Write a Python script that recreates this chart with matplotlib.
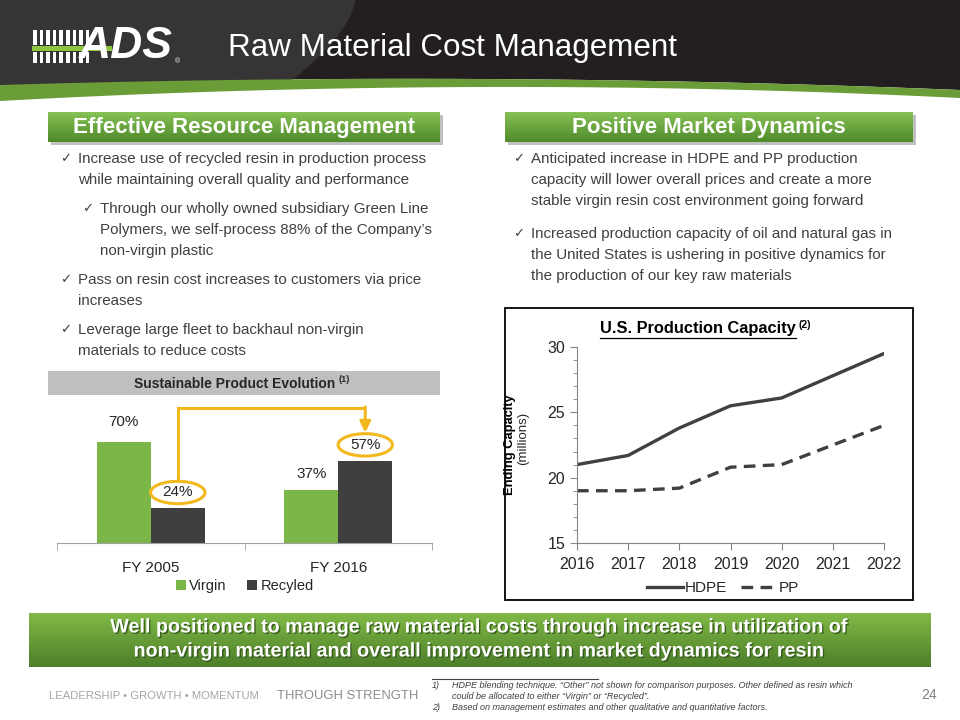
"""
Raw Material Cost Management 슬라이드 재현
"""
import matplotlib
matplotlib.use('Agg')
import matplotlib.pyplot as plt
import matplotlib.patches as mpatches
import matplotlib.patheffects as pe
from matplotlib.colors import to_rgb
import numpy as np

plt.rcParams['font.family'] = ['Liberation Sans', 'DejaVu Sans']

# ---- 데이터 ----
bar_categories = ['FY 2005', 'FY 2016']
virgin_share = [70, 37]
recycled_share = [24, 57]

years = [2016, 2017, 2018, 2019, 2020, 2021, 2022]
hdpe_capacity = [21.0, 21.7, 23.8, 25.5, 26.1, 27.8, 29.5]
pp_capacity = [19.0, 19.0, 19.2, 20.8, 21.0, 22.5, 24.0]

title = 'Raw Material Cost Management'
left_header = 'Effective Resource Management'
right_header = 'Positive Market Dynamics'
left_bullets = [
    (0, ['Increase use of recycled resin in production process',
         'while maintaining overall quality and performance']),
    (1, ['Through our wholly owned subsidiary Green Line',
         'Polymers, we self-process 88% of the Company\u2019s',
         'non-virgin plastic']),
    (0, ['Pass on resin cost increases to customers via price',
         'increases']),
    (0, ['Leverage large fleet to backhaul non-virgin',
         'materials to reduce costs']),
]
right_bullets = [
    (0, ['Anticipated increase in HDPE and PP production',
         'capacity will lower overall prices and create a more',
         'stable virgin resin cost environment going forward']),
    (0, ['Increased production capacity of oil and natural gas in',
         'the United States is ushering in positive dynamics for',
         'the production of our key raw materials']),
]
banner_lines = ['Well positioned to manage raw material costs through increase in utilization of',
                'non-virgin material and overall improvement in market dynamics for resin']
footnotes = [
    ('1)', ['HDPE blending technique. \u201cOther\u201d not shown for comparison purposes. Other defined as resin which',
            'could be allocated to either \u201cVirgin\u201d or \u201cRecycled\u201d.']),
    ('2)', ['Based on management estimates and other qualitative and quantitative factors.']),
]

GREEN = '#7ab648'
DARK = '#404040'
GOLD = '#f2b81e'
TEXT = '#404040'

W, H = 960, 720
fig = plt.figure(figsize=(9.6, 7.2), dpi=100)
bg = fig.add_axes([0, 0, 1, 1])
bg.axis('off')


def frect(x0, y0, x1, y1):
    return [x0 / W, 1 - y1 / H, (x1 - x0) / W, (y1 - y0) / H]


def gradient_box(x0, y0, x1, y1, top, bottom, z=2):
    c0 = np.array(to_rgb(top))
    c1 = np.array(to_rgb(bottom))
    t = np.linspace(0, 1, 64)[:, None, None]
    img = c0 * (1 - t) + c1 * t
    bg.imshow(img, extent=(x0, x1, y1, y0), aspect='auto', origin='upper',
              zorder=z, interpolation='bilinear')


# ---- 헤더 ----
xs = np.linspace(0, W, 300)
dark_bottom = np.polyval(np.polyfit([0, 480, 960], [85, 79, 90], 2), xs)
green_bottom = np.polyval(np.polyfit([0, 480, 960], [101, 87, 98], 2), xs)
bg.fill_between(xs, 0, dark_bottom, color='#231f20', zorder=1, lw=0)
ya = np.linspace(0, 84, 50)
arc_x = 355 - 68 * (ya / 84) ** 1.6
bg.fill(np.r_[0, arc_x, 0], np.r_[0, ya, 85], color='#363435', zorder=1, lw=0)
bg.fill_between(xs, dark_bottom, green_bottom, color='#6a9d38', zorder=1, lw=0)

# 로고 (단순화)
for i in range(9):
    bx = 33 + i * 6.6
    bg.add_patch(mpatches.Rectangle((bx, 30), 3.6, 15, color='white', zorder=3, lw=0))
    bg.add_patch(mpatches.Rectangle((bx, 52), 3.6, 11, color='white', zorder=3, lw=0))
bg.add_patch(mpatches.Rectangle((32, 46), 80, 5, color='#8cc63f', zorder=3, lw=0))
bg.text(79, 47, 'ADS', color='white', fontsize=32, fontweight='bold', style='italic',
        va='center', ha='left', zorder=4)
bg.text(175, 62, '\u00ae', color='white', fontsize=5, va='center', zorder=4)

bg.text(228, 48, title, color='white', fontsize=22.6, va='center', ha='left', zorder=4)


# ---- 섹션 헤더 ----
def section_header(x0, x1, label):
    y0, y1 = 112, 142
    bg.add_patch(mpatches.Rectangle((x0 + 3, y0 + 3), x1 - x0, y1 - y0,
                                    color='#a6a6a6', alpha=0.7, zorder=1, lw=0))
    gradient_box(x0, y0, x1, y1, '#86c255', '#4f8a2b', z=2)
    bg.text((x0 + x1) / 2, (y0 + y1) / 2 + 1, label, color='white', fontsize=16,
            fontweight='bold', ha='center', va='center', zorder=3)


section_header(48, 440, left_header)
section_header(505, 913, right_header)


def bullets(items, x_check, y_start, gap):
    y = y_start
    for level, lines in items:
        xc = x_check + level * 22
        bg.text(xc, y, '\u2713', family='DejaVu Sans', fontsize=9.5, color=TEXT,
                va='center', ha='left', zorder=3)
        for line in lines:
            bg.text(xc + 18, y, line, fontsize=10.9, color=TEXT, va='center',
                    ha='left', zorder=3)
            y += 21
        y += gap


bullets(left_bullets, 60, 159, 8)
bullets(right_bullets, 513, 159, 12)

# ---- 막대 차트 ----
bg.add_patch(mpatches.Rectangle((48, 371), 392, 24, color='#bfbfbf', zorder=1, lw=0))
sp_title = bg.text(235, 383.5, 'Sustainable Product Evolution', fontsize=10,
                   fontweight='bold', color='#262626', ha='center',
                   va='center', zorder=3)

ax_bar = fig.add_axes(frect(57, 398.7, 432, 543))
x = np.arange(len(bar_categories))
bw = 0.288
b_v = ax_bar.bar(x - bw / 2, virgin_share, bw, color=GREEN, label='Virgin')
b_r = ax_bar.bar(x + bw / 2, recycled_share, bw, color='#3f3f3f', label='Recyled')
ax_bar.set_xlim(-0.5, 1.5)
ax_bar.set_ylim(0, 100)
ax_bar.set_yticks([])
for s in ['top', 'right', 'left']:
    ax_bar.spines[s].set_visible(False)
ax_bar.spines['bottom'].set_color('#a0a0a0')
ax_bar.set_xticks(x)
ax_bar.set_xticklabels(bar_categories, fontsize=11, color='#262626')
ax_bar.tick_params(axis='x', which='major', length=0, pad=13)
ax_bar.set_xticks([-0.5, 0.5, 1.5], minor=True)
ax_bar.tick_params(axis='x', which='minor', length=5, color='#a0a0a0')

label_off = 11
for xi, v in zip(x - bw / 2, virgin_share):
    ax_bar.text(xi, v + label_off + (3 if v > 60 else 0), f'{v}%', ha='center',
                va='center', fontsize=11, color='#262626')
for xi, v in zip(x + bw / 2, recycled_share):
    ax_bar.text(xi, v + label_off, f'{v}%', ha='center', va='center',
                fontsize=11, color='#262626', zorder=5)
    ax_bar.add_patch(mpatches.Ellipse((xi, v + label_off), 0.29, 15.5, fill=False,
                                      ec=GOLD, lw=2.2, clip_on=False, zorder=4))

# 연결 화살표
x_from = x[0] + bw / 2
x_to = x[1] + bw / 2
y_top = 93.5
ax_bar.plot([x_from, x_from, x_to], [recycled_share[0] + label_off + 7.8, y_top, y_top],
            color=GOLD, lw=2.2, clip_on=False, solid_capstyle='butt',
            solid_joinstyle='miter', zorder=4)
ax_bar.annotate('', xy=(x_to, recycled_share[1] + label_off + 8.5), xytext=(x_to, y_top + 0.8),
                arrowprops=dict(arrowstyle='-|>', color=GOLD, lw=2.2,
                                mutation_scale=16, shrinkA=0, shrinkB=0),
                annotation_clip=False, zorder=4)

ax_bar.legend(handles=[b_v, b_r], loc='center', bbox_to_anchor=(245 / W, 1 - 586 / H),
              bbox_transform=fig.transFigure, ncol=2, frameon=False, fontsize=10.5,
              handlelength=0.65, handleheight=0.65, handletextpad=0.25, columnspacing=1.4,
              labelcolor='#262626')

# ---- 라인 차트 ----
bg.add_patch(mpatches.Rectangle((505, 308), 408, 292, fill=False, ec='black',
                                lw=1.3, zorder=3))
ax_line = fig.add_axes(frect(577, 347, 884, 543))
ax_line.plot(years, hdpe_capacity, color=DARK, lw=2.4, label='HDPE')
ax_line.plot(years, pp_capacity, color=DARK, lw=2.4, ls=(0, (3.5, 2.2)), label='PP')
ax_line.set_xlim(2016, 2022)
ax_line.set_ylim(15, 30)
ax_line.set_xticks(years)
ax_line.set_yticks([15, 20, 25, 30])
ax_line.set_yticks(np.arange(15, 31, 1), minor=True)
for s in ['top', 'right']:
    ax_line.spines[s].set_visible(False)
for s in ['left', 'bottom']:
    ax_line.spines[s].set_color('#868686')
ax_line.tick_params(axis='both', which='both', color='#868686', labelsize=11.5,
                    labelcolor='#262626')
ax_line.tick_params(axis='both', which='major', length=5)
ax_line.tick_params(axis='y', which='minor', length=3)
ax_line.tick_params(axis='x', pad=5)
ax_line.legend(loc='center', bbox_to_anchor=(723 / W, 1 - 588 / H),
               bbox_transform=fig.transFigure, ncol=2, frameon=False, fontsize=11,
               handlelength=2.3, handletextpad=0.15, columnspacing=0.9,
               labelcolor='#262626')

bg.text(510, 445, 'Ending Capacity', fontsize=9.3, fontweight='bold',
        rotation=90, ha='center', va='center', color='black', zorder=3)
bg.text(523, 438, '(millions)', fontsize=9.5, rotation=90,
        ha='center', va='center', color='#262626', zorder=3)
lc_title = bg.text(698, 329, 'U.S. Production Capacity', fontsize=11.8,
                   fontweight='bold', ha='center', va='center', color='black', zorder=3)

# ---- 하단 배너 ----
gradient_box(29, 613, 931, 667, '#80b947', '#4d7f29', z=2)
for i, line in enumerate(banner_lines):
    bg.text(480, 627 + i * 24, line, fontsize=14.2, fontweight='bold',
            color='white', ha='center', va='center', zorder=3,
            path_effects=[pe.withSimplePatchShadow(offset=(1, -1), shadow_rgbFace='#2f4f1a',
                                                   alpha=0.8)])

# ---- 푸터 ----
bg.text(49, 696, 'LEADERSHIP \u2022 GROWTH \u2022 MOMENTUM', fontsize=8.1,
        color='#a6a6a6', ha='left', va='center')
bg.text(277, 696, 'THROUGH STRENGTH', fontsize=9.4, color='#8c8c8c',
        ha='left', va='center')
bg.plot([432, 598], [679, 679], color='#404040', lw=0.8)
fy = 686
for num, lines in footnotes:
    bg.text(432, fy, num, fontsize=6.5, style='italic', color=TEXT,
            ha='left', va='center')
    for line in lines:
        bg.text(452, fy, line, fontsize=6.45, style='italic', color=TEXT,
                ha='left', va='center')
        fy += 10.5
bg.text(937, 695, '24', fontsize=10, color='#808080', ha='right', va='center')

bg.set_xlim(0, W)
bg.set_ylim(H, 0)

# 위첨자 / 밑줄: 텍스트 위치를 구한 뒤 배치
fig.canvas.draw()
inv = bg.transData.inverted()
ext = sp_title.get_window_extent()
(x0, _), (x1, _) = inv.transform([[ext.x0, ext.y0], [ext.x1, ext.y1]])
bg.text(x1 + 3, 380, '(1)', fontsize=6.5, fontweight='bold',
        color='#262626', ha='left', va='center', zorder=3)
ext = lc_title.get_window_extent()
(x0, yb), (x1, _) = inv.transform([[ext.x0, ext.y0], [ext.x1, ext.y1]])
bg.plot([x0, x1], [yb + 1, yb + 1], color='black', lw=0.9, zorder=3)
bg.text(x1 + 3, 325, '(2)', fontsize=7.5, fontweight='bold',
        color='black', ha='left', va='center', zorder=3)
bg.set_xlim(0, W)
bg.set_ylim(H, 0)

fig.savefig('out.png', dpi=100)
plt.close(fig)
